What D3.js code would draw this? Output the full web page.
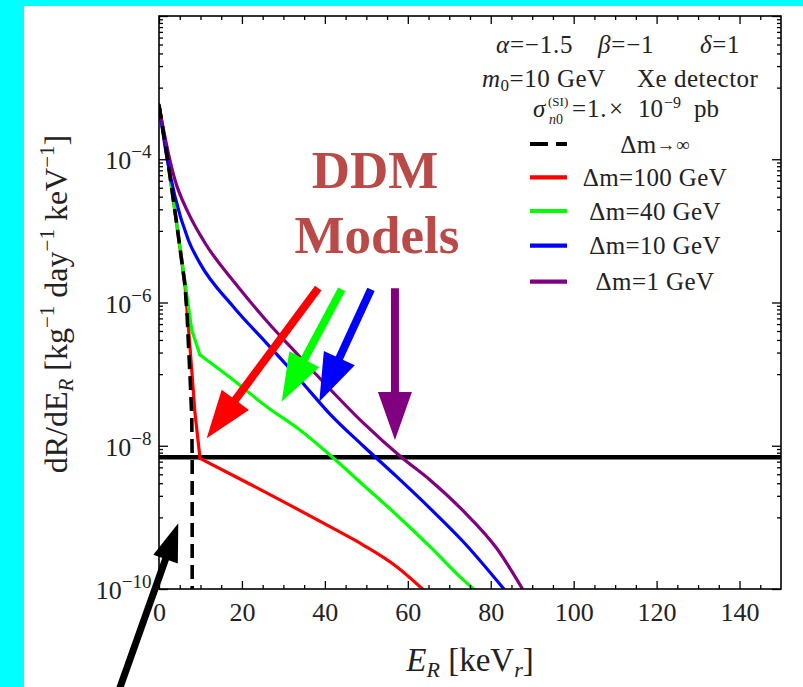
<!DOCTYPE html>
<html><head><meta charset="utf-8">
<script src="https://cdn.jsdelivr.net/npm/d3@7"></script>
<style>html,body{margin:0;padding:0;background:#00ffff;}svg{display:block;}</style>
</head><body>
<svg id="c" width="803" height="687"></svg>
<script>
// ---------------- data ----------------
const seriesNames = ["Δm→∞", "Δm=100 GeV", "Δm=40 GeV", "Δm=10 GeV", "Δm=1 GeV"];
const seriesColors = ["#000000", "#ff0000", "#00ff00", "#0000ff", "#800080"];

const infE    = [0, 2.1, 4.27, 6.27, 6.8, 7.07, 7.5, 7.9, 8.0, 8.0];
const infRate = [5.71e-4, 9.77e-5, 1.26e-5, 1.74e-6, 6.31e-7, 2.82e-7, 8.91e-8, 2.51e-8, 6.31e-9, 3.16e-11];

const dm100E    = [0, 2.1, 4.27, 6.27, 7.47, 8.68, 9.89, 20.0, 41.23, 49.26, 57.32, 63.9];
const dm100Rate = [5.71e-4, 9.77e-5, 1.26e-5, 1.74e-6, 2.41e-7, 2.84e-8, 6.68e-9, 3.33e-9, 7.41e-10, 4.11e-10, 2.05e-10, 9.6e-11];

const dm40E    = [0, 2.1, 4.27, 6.27, 7.89, 9.89, 17.92, 25.97, 34.0, 41.23, 49.26, 57.32, 65.35, 73.38, 76.2];
const dm40Rate = [5.71e-4, 9.77e-5, 1.26e-5, 1.93e-6, 4.13e-7, 1.85e-7, 8.28e-8, 3.51e-8, 1.66e-8, 7.43e-9, 2.83e-9, 1.08e-9, 3.9e-10, 1.34e-10, 9.6e-11];

const dm10E    = [0, 1.86, 3.86, 7.07, 9.89, 17.92, 25.97, 34.0, 41.23, 49.26, 57.32, 65.35, 73.38, 83.43];
const dm10Rate = [5.71e-4, 1.09e-4, 3.0e-5, 7.46e-6, 3.52e-6, 8.73e-7, 2.69e-7, 8.28e-8, 2.77e-8, 9.93e-9, 3.7e-9, 1.34e-9, 4.57e-10, 9.6e-11];

const dm1E    = [0, 0.65, 3.86, 7.07, 11.09, 18.33, 25.97, 34.0, 41.23, 49.26, 58.52, 65.35, 73.38, 81.43, 87.85];
const dm1Rate = [5.71e-4, 3.53e-4, 5.13e-5, 1.78e-5, 6.78e-6, 1.87e-6, 5.52e-7, 1.73e-7, 6.19e-8, 2.08e-8, 6.85e-9, 3.33e-9, 1.23e-9, 3.7e-10, 9.6e-11];

// recoil energy where the Δm=100 and Δm=40 curves break into their slow tails
const kinkE = 9.89;
const thresholdRate = 6.9e-9;

const xMajorTicks = [0, 20, 40, 60, 80, 100, 120, 140];
const xMinorTicks = [5, 10, 15, 25, 30, 35, 45, 50, 55, 65, 70, 75, 85, 90, 95, 105, 110, 115, 125, 130, 135, 145];
const yMajorTicks = [1e-10, 1e-8, 1e-6, 1e-4, 1e-2];
const yLabelExps  = [-10, -8, -6, -4];
const yMinorTicks = [-9, -7, -5, -3].flatMap(k => [1,2,3,4,5,6,7,8,9].map(m => m * Math.pow(10, k)));

// annotation arrows (data coordinates): colored arrows point at DDM curves, black at the dashed line
const arrowFromE    = [38.4, 44.06, 51.12, 56.9, -10.5];
const arrowFromRate = [1.585e-6, 1.528e-6, 1.528e-6, 1.585e-6, 2.8e-12];
const arrowToE      = [11.5, 29.59, 38.65, 56.9, 4.65];
const arrowToRate   = [1.27e-8, 4.12e-8, 4.12e-8, 1.2e-8, 8.26e-10];
const arrowColors   = ["#ff0000", "#00ff00", "#0000ff", "#800080", "#000000"];

// ---------------- drawing ----------------
const W = 803, H = 687;
const svg = d3.select("#c");
const SERIF = "'Liberation Serif','Times New Roman',serif";
svg.append("rect").attr("width", W).attr("height", H).attr("fill", "#00ffff");
svg.append("rect").attr("x", 24).attr("y", 6).attr("width", W - 24).attr("height", H - 6).attr("fill", "#ffffff");

const m = {l: 159, r: 781, t: 16, b: 589};
const x = d3.scaleLinear().domain([0, 150]).range([m.l, m.r]);
const y = d3.scaleLog().domain([1e-10, 1e-2]).range([m.b, m.t]);

svg.append("defs").append("clipPath").attr("id", "plotclip")
  .append("rect").attr("x", m.l).attr("y", m.t).attr("width", m.r - m.l).attr("height", m.b - m.t);

// threshold line
svg.append("line").attr("x1", x(0)).attr("x2", x(150)).attr("y1", y(thresholdRate)).attr("y2", y(thresholdRate))
  .attr("stroke", "#000").attr("stroke-width", 4.5);

// curves
const gc = svg.append("g").attr("clip-path", "url(#plotclip)");
function drawCurve(E, R, color, curve, dash) {
  const pts = E.map((e, i) => [e, R[i]]);
  gc.append("path").datum(pts)
    .attr("d", d3.line().x(d => x(d[0])).y(d => y(d[1])).curve(curve))
    .attr("fill", "none").attr("stroke", color).attr("stroke-width", dash ? 3.6 : 3.2)
    .attr("stroke-dasharray", dash || null).attr("stroke-linejoin", "round").attr("stroke-linecap", dash ? "butt" : "round");
}
function drawKinked(E, R, color) {
  const k = E.indexOf(kinkE);
  drawCurve(E.slice(0, k + 1), R.slice(0, k + 1), color, d3.curveLinear);
  drawCurve(E.slice(k), R.slice(k), color, d3.curveMonotoneX);
}
drawKinked(dm100E, dm100Rate, seriesColors[1]);
drawKinked(dm40E, dm40Rate, seriesColors[2]);
drawCurve(dm10E, dm10Rate, seriesColors[3], d3.curveMonotoneX);
drawCurve(dm1E, dm1Rate, seriesColors[4], d3.curveMonotoneX);
drawCurve(infE, infRate, seriesColors[0], d3.curveLinear, "14,7");

// axes ticks (inward)
function tickG(axis, tr) {
  const g = svg.append("g").attr("transform", tr).call(axis);
  g.select(".domain").remove();
  g.selectAll("line").attr("stroke", "#000").attr("stroke-width", 1.3);
  return g;
}
const gb = tickG(d3.axisBottom(x).tickValues(xMajorTicks).tickSize(-8).tickPadding(14).tickFormat(d3.format("d")), `translate(0,${m.b})`);
gb.selectAll("text").attr("font-family", SERIF).attr("font-size", 26).attr("fill", "#222");
tickG(d3.axisBottom(x).tickValues(xMinorTicks).tickSize(-4).tickFormat(""), `translate(0,${m.b})`);
tickG(d3.axisTop(x).tickValues(xMajorTicks).tickSize(-8).tickFormat(""), `translate(0,${m.t})`);
tickG(d3.axisTop(x).tickValues(xMinorTicks).tickSize(-4).tickFormat(""), `translate(0,${m.t})`);
tickG(d3.axisLeft(y).tickValues(yMajorTicks).tickSize(-9).tickFormat(""), `translate(${m.l},0)`);
tickG(d3.axisLeft(y).tickValues(yMinorTicks).tickSize(-4).tickFormat(""), `translate(${m.l},0)`);
tickG(d3.axisRight(y).tickValues(yMajorTicks).tickSize(-9).tickFormat(""), `translate(${m.r},0)`);
tickG(d3.axisRight(y).tickValues(yMinorTicks).tickSize(-4).tickFormat(""), `translate(${m.r},0)`);

// frame
svg.append("rect").attr("x", m.l).attr("y", m.t).attr("width", m.r - m.l).attr("height", m.b - m.t)
  .attr("fill", "none").attr("stroke", "#000").attr("stroke-width", 1.6);

// y tick labels 10^k
const yl = svg.append("g").selectAll("text").data(yLabelExps).join("text")
  .attr("x", 151.5).attr("y", d => y(Math.pow(10, d)) + 10)
  .attr("text-anchor", "end").attr("font-family", SERIF).attr("font-size", 26).attr("fill", "#222");
yl.append("tspan").text("10");
yl.append("tspan").attr("dy", -11).attr("font-size", 19).text(d => "−" + Math.abs(d));

// axis titles
const xt = svg.append("text").attr("x", (m.l + m.r) / 2).attr("y", 671).attr("text-anchor", "middle")
  .attr("font-family", SERIF).attr("font-size", 33).attr("fill", "#222");
xt.append("tspan").attr("font-style", "italic").text("E");
xt.append("tspan").attr("font-style", "italic").attr("font-size", 22).attr("dy", 6).text("R");
xt.append("tspan").attr("dy", -6).text(" [keV");
xt.append("tspan").attr("font-style", "italic").attr("font-size", 22).attr("dy", 6).text("r");
xt.append("tspan").attr("dy", -6).text("]");

const yt = svg.append("text").attr("transform", `translate(67,304) rotate(-90)`)
  .attr("text-anchor", "middle").attr("font-family", SERIF).attr("font-size", 32).attr("fill", "#222");
yt.append("tspan").text("dR/dE");
yt.append("tspan").attr("font-style", "italic").attr("font-size", 21).attr("dy", 6).text("R");
yt.append("tspan").attr("dy", -6).text(" [kg");
yt.append("tspan").attr("font-size", 21).attr("dy", -13).text("−1");
yt.append("tspan").attr("dy", 13).text(" day");
yt.append("tspan").attr("font-size", 21).attr("dy", -13).text("−1");
yt.append("tspan").attr("dy", 13).text(" keV");
yt.append("tspan").attr("font-size", 21).attr("dy", -13).text("−1");
yt.append("tspan").attr("dy", 13).text("]");

// legend header text
const LF = 25;
function txt(xp, yp, size) {
  return svg.append("text").attr("x", xp).attr("y", yp).attr("font-family", SERIF).attr("font-size", size || LF).attr("fill", "#222");
}
let t = txt(496, 53).attr("letter-spacing", 0.8); t.append("tspan").attr("font-style", "italic").text("α"); t.append("tspan").text("=−1.5");
t = txt(598, 53).attr("letter-spacing", 0.8); t.append("tspan").attr("font-style", "italic").text("β"); t.append("tspan").text("=−1");
t = txt(700, 53).attr("letter-spacing", 0.6); t.append("tspan").attr("font-style", "italic").text("δ"); t.append("tspan").text("=1");
t = txt(482, 87).attr("letter-spacing", 0.5); t.append("tspan").attr("font-style", "italic").text("m");
t.append("tspan").attr("font-size", 17).attr("dy", 4).text("0");
t.append("tspan").attr("dy", -4).text("=10 GeV");
txt(637, 87).attr("letter-spacing", 0.5).text("Xe detector");
txt(533, 117).attr("font-style", "italic").text("σ");
txt(548, 106, 13).text("(SI)");
t = txt(549, 124, 14); t.append("tspan").attr("font-style", "italic").text("n"); t.append("tspan").text("0");
txt(572, 117).attr("letter-spacing", 0.8).text("=1.");
txt(609, 117).text("×");
txt(638, 117).text("10");
txt(664, 108, 16).text("−9");
txt(694, 117).text("pb");

// legend entries
const legY = [144, 177.3, 211, 245.7, 281.7];
seriesNames.forEach((name, i) => {
  svg.append("line").attr("x1", 530).attr("x2", 567).attr("y1", legY[i]).attr("y2", legY[i])
    .attr("stroke", seriesColors[i]).attr("stroke-width", 4.2)
    .attr("stroke-dasharray", i === 0 ? "18,8" : null);
  const lt = txt(655, legY[i] + 8.5, 25).attr("text-anchor", "middle").attr("letter-spacing", 0.4);
  if (i === 0) {
    lt.append("tspan").text("Δm");
    lt.append("tspan").attr("font-size", 19).attr("dy", -2).text("→∞");
  } else {
    lt.text(name);
  }
});

// DDM annotation text
svg.append("text").attr("x", 375).attr("y", 188).attr("text-anchor", "middle")
  .attr("font-family", SERIF).attr("font-weight", "bold").attr("font-size", 53).attr("fill", "#b94a48").text("DDM");
svg.append("text").attr("x", 377).attr("y", 253).attr("text-anchor", "middle")
  .attr("font-family", SERIF).attr("font-weight", "bold").attr("font-size", 53).attr("fill", "#b94a48").text("Models");

// arrows
function arrow(x1, y1, x2, y2, color, shaftW, headL, headW) {
  const dx = x2 - x1, dy = y2 - y1, L = Math.hypot(dx, dy);
  const ux = dx / L, uy = dy / L, px = -uy, py = ux;
  const bx = x2 - ux * headL, by = y2 - uy * headL;
  svg.append("line").attr("x1", x1).attr("y1", y1).attr("x2", bx + ux * 2).attr("y2", by + uy * 2)
    .attr("stroke", color).attr("stroke-width", shaftW);
  svg.append("polygon").attr("points", [[x2, y2], [bx + px * headW / 2, by + py * headW / 2], [bx - px * headW / 2, by - py * headW / 2]].map(p => p.join(",")).join(" "))
    .attr("fill", color);
}
arrowFromE.forEach((e, i) => {
  const black = i === 4;
  arrow(x(e), y(arrowFromRate[i]), x(arrowToE[i]), y(arrowToRate[i]), arrowColors[i],
    black ? 7 : 8, black ? 38 : 48, black ? 26 : 34);
});
</script>
</body></html>
